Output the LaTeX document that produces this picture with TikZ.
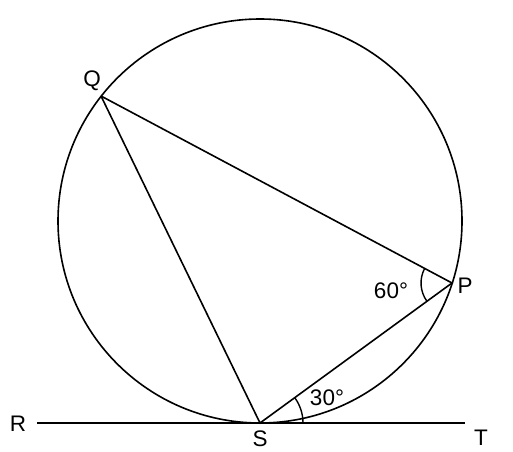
\documentclass[tikz,border=0pt]{standalone}
\usepackage{fontspec}
\setmainfont{Liberation Sans}
\usetikzlibrary{angles}
\begin{document}
\begin{tikzpicture}[x=1pt,y=1pt,line width=1.6pt,
  lbl/.style={font=\fontsize{22.5}{26}\selectfont, inner sep=0pt},
  angarc/.style={draw, line width=1.4pt}]
\useasboundingbox (0,0) rectangle (513,451);
\coordinate (O) at (260,230);
\coordinate (S) at (260,28);
\coordinate (P) at (452,168);
\coordinate (Q) at (101,355);
\coordinate (Rend) at (37,28);
\coordinate (Tend) at (465,28);
\draw (O) circle (202);
\draw (Rend) -- (S) -- (Tend);
\draw (Q) -- (P) -- (S) -- (Q);
\pic[angarc, angle radius=43pt] {angle = Tend--S--P};
\pic[angarc, angle radius=31pt] {angle = Q--P--S};
\node[lbl] (Rl) at (18,27) {R};
\node[lbl] (Tl) at (481,13) {T};
\node[lbl] (Sl) at (260,12) {S};
\node[lbl] (Ql) at (92,370) {Q};
\node[lbl] (Pl) at (465,165) {P};
\node[lbl] (a60) at (391,160) {60°};
\node[lbl] (a30) at (327,53) {30°};
\end{tikzpicture}
\end{document}
